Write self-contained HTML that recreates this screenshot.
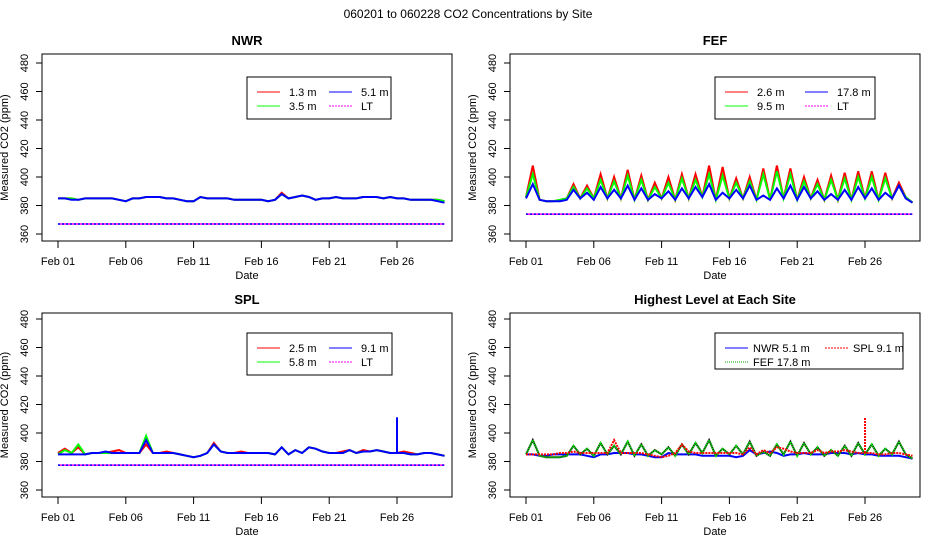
<!DOCTYPE html>
<html><head><meta charset="utf-8"><style>
body{margin:0;background:#fff}
svg{display:block;font-family:"Liberation Sans",sans-serif}
</style></head><body>
<svg id="c" width="936" height="540" xmlns="http://www.w3.org/2000/svg">
<text x="468" y="18" font-size="12" text-anchor="middle">060201  to  060228 CO2 Concentrations by Site</text>
</svg>
<script>
const xTickLabels=["Feb 01","Feb 06","Feb 11","Feb 16","Feb 21","Feb 26"];
const xTickDays=[0,5,10,15,20,25];
const yTicks=[360,380,400,420,440,460,480];
// half-day resolution series
const nwr13=[385,385,385,384,385,385,385,385,385,384,383,385,385,386,386,386,385,385,384,383,383,386,385,385,385,385,384,384,384,384,384,383,384,389,385,386,387,386,384,385,385,386,385,385,385,386,386,386,385,386,385,385,384,384,384,384,384,383];
const nwr35=[385,385,385,384,385,385,385,385,385,384,383,385,385,386,386,386,385,385,384,383,383,386,385,385,385,385,384,384,384,384,384,383,384,388,385,386,387,386,384,385,385,386,385,385,385,386,386,386,385,386,385,385,384,384,384,384,384,383];
const nwr51=[385,385,384,384,385,385,385,385,385,384,383,385,385,386,386,386,385,385,384,383,383,386,385,385,385,385,384,384,384,384,384,383,384,388,385,386,387,386,384,385,385,386,385,385,385,386,386,386,385,386,385,385,384,384,384,384,383,382];
const nwrLT=[367,367,367,367,367,367,367,367,367,367,367,367,367,367,367,367,367,367,367,367,367,367,367,367,367,367,367,367,367,367,367,367,367,367,367,367,367,367,367,367,367,367,367,367,367,367,367,367,367,367,367,367,367,367,367,367,367,367];
const fef26=[386,408,384,383,383,384,385,395,385,394,385,402,385,400,385,405,384,401,384,396,385,400,384,402,385,402,386,408,384,407,385,399,385,400,384,406,384,408,385,406,384,400,385,398,384,401,384,403,384,404,385,404,384,403,385,396,386,382];
const fef95=[386,402,384,383,383,384,385,393,385,392,385,398,385,397,385,401,384,398,384,393,385,396,384,399,385,398,386,402,384,401,385,396,385,397,384,402,384,404,385,402,384,397,385,395,384,398,384,399,384,400,385,400,384,399,385,394,386,382];
const fef178=[385,395,384,383,383,383,384,391,385,389,384,393,385,391,385,394,384,392,384,388,385,390,384,392,385,393,386,395,384,389,385,391,385,394,384,387,384,392,385,394,384,393,385,390,384,388,384,391,384,393,385,392,384,389,385,394,385,382];
const fefLT=[374,374,374,374,374,374,374,374,374,374,374,374,374,374,374,374,374,374,374,374,374,374,374,374,374,374,374,374,374,374,374,374,374,374,374,374,374,374,374,374,374,374,374,374,374,374,374,374,374,374,374,374,374,374,374,374,374,374];
const spl25=[386,389,386,390,385,386,386,386,387,388,386,386,386,392,386,386,387,386,385,384,383,384,386,393,387,386,386,387,386,386,386,386,385,390,385,388,386,390,389,387,386,386,387,388,386,388,387,388,387,386,386,387,386,385,386,386,385,384];
const spl58=[385,388,386,392,385,386,386,386,386,386,386,386,386,398,386,386,386,386,385,384,383,384,386,392,387,386,386,386,386,386,386,386,385,390,385,388,386,390,389,387,386,386,386,388,386,387,387,388,387,386,386,386,385,385,386,386,385,384];
const spl91=[385,385,385,385,385,386,386,387,386,386,386,386,386,395,386,386,386,386,385,384,383,384,386,392,387,386,386,386,386,386,386,386,385,390,385,388,386,390,389,387,386,386,386,388,386,387,387,388,387,386,386,386,385,385,386,386,385,384];
const splLT=[377.5,377.5,377.5,377.5,377.5,377.5,377.5,377.5,377.5,377.5,377.5,377.5,377.5,377.5,377.5,377.5,377.5,377.5,377.5,377.5,377.5,377.5,377.5,377.5,377.5,377.5,377.5,377.5,377.5,377.5,377.5,377.5,377.5,377.5,377.5,377.5,377.5,377.5,377.5,377.5,377.5,377.5,377.5,377.5,377.5,377.5,377.5,377.5,377.5,377.5,377.5,377.5,377.5,377.5,377.5,377.5,377.5,377.5];
const spike=[0,0,0,0,0,0,0,0,0,0,0,0,0,0,0,0,0,0,0,0,0,0,0,0,0,0,0,0,0,0,0,0,0,0,0,0,0,0,0,0,0,0,0,0,0,0,0,0,0,0,411,0,0,0,0,0,0,0];
const NS="http://www.w3.org/2000/svg";
const svg=document.getElementById('c');
function mk(tag,attrs,parent){const e=document.createElementNS(NS,tag);for(const k in attrs)e.setAttribute(k,attrs[k]);(parent||svg).appendChild(e);return e;}
function panel(p){
  const g=mk('g',{});
  
  
  const bx=p.x,by=p.y,bw=410,bh=p.h;
  const xs=d=>bx+16+d*13.56;
  const ys=v=>p.y480+(480-v)*1.425;
  const box=mk('rect',{x:bx,y:by,width:bw,height:bh,fill:'none',stroke:'#000','stroke-width':1},g);
  
  
  const t=mk('text',{x:bx+bw/2,y:by-9,'font-size':13,'font-weight':'bold','text-anchor':'middle'},g);t.textContent=p.title;
  
  
  xTickDays.forEach((d,i)=>{
    mk('line',{x1:xs(d),x2:xs(d),y1:by+bh,y2:by+bh+7,stroke:'#000'},g);
    const l=mk('text',{x:xs(d),y:by+bh+24,'font-size':11,'text-anchor':'middle'},g);l.textContent=xTickLabels[i];
    
    
  });
  mk('line',{x1:xs(0),x2:xs(25),y1:by+bh,y2:by+bh,stroke:'#000'},g);
  yTicks.forEach(v=>{
    mk('line',{x1:bx-6,x2:bx,y1:ys(v),y2:ys(v),stroke:'#000'},g);
    const l=mk('text',{x:bx-14,y:ys(v),'font-size':11,'text-anchor':'middle',transform:`rotate(-90 ${bx-14} ${ys(v)})`},g);l.textContent=v;
    
    
  });
  const xt=mk('text',{x:bx+205,y:by+bh+38,'font-size':11,'text-anchor':'middle'},g);xt.textContent='Date';
  
  
  const yx=bx-34,yy=by+bh/2;
  const yt=mk('text',{x:yx,y:yy,'font-size':11,'text-anchor':'middle',transform:`rotate(-90 ${yx} ${yy})`},g);yt.textContent='Measured CO2 (ppm)';
  
  
  p.series.forEach(s=>{
    const pts=s.v.map((v,i)=>xs(i*0.5).toFixed(1)+','+ys(v).toFixed(1)).join(' ');
    const pl=mk('polyline',{points:pts,fill:'none',stroke:s.c,'stroke-width':s.w||2,'stroke-dasharray':s.dash||'none'},g);
    
    
    if(s.sp){s.sp.forEach((v,i)=>{if(v){const ln=mk('line',{x1:xs(i*0.5),x2:xs(i*0.5),y1:ys(386),y2:ys(v),stroke:s.c,'stroke-width':2,'stroke-dasharray':s.dash||'none'},g);
      
      }});}
  });
  // legend
  const L=p.leg;
  const lg=mk('g',{},g);
  
  
  mk('rect',{x:L.x,y:L.y,width:L.w,height:L.h,fill:'#fff',stroke:'#000'},lg);
  L.items.forEach((it,i)=>{
    const col=i<2?0:1,row=i%2;
    const lx=L.x+10+col*L.cw,ly=L.y+15+row*14;
    mk('line',{x1:lx,x2:lx+23,y1:ly,y2:ly,stroke:it.c,'stroke-width':1,'stroke-dasharray':it.dash||'none'},lg);
    const tx=mk('text',{x:lx+L.tx,y:ly+4,'font-size':11},lg);tx.textContent=it.t;
    
    
  });
}
panel({name:'nwr',title:'NWR',x:42,y:54,h:187,y480:63,
  series:[{v:nwr13,c:'#f00',n:'nwr-1-3m-line'},{v:nwr35,c:'#0f0',n:'nwr-3-5m-line'},{v:nwr51,c:'#00f',n:'nwr-5-1m-line'},{v:nwrLT,c:'#f0f',n:'nwr-lt-line',w:1.5},{v:nwrLT,c:'#00f',n:'nwr-lt-dash',w:1.5,dash:'2,2'}],
  leg:{x:247,y:77,w:144,h:42,cw:72,tx:32,items:[{t:'1.3 m',c:'#f00'},{t:'3.5 m',c:'#0f0'},{t:'5.1 m',c:'#00f'},{t:'LT',c:'#f0f',dash:'2,1'}]}});
panel({name:'fef',title:'FEF',x:510,y:54,h:187,y480:63,
  series:[{v:fef26,c:'#f00',n:'fef-2-6m-line'},{v:fef95,c:'#0f0',n:'fef-9-5m-line'},{v:fef178,c:'#00f',n:'fef-17-8m-line'},{v:fefLT,c:'#f0f',n:'fef-lt-line',w:1.5},{v:fefLT,c:'#00f',n:'fef-lt-dash',w:1.5,dash:'2,2'}],
  leg:{x:715,y:77,w:160,h:42,cw:80,tx:32,items:[{t:'2.6 m',c:'#f00'},{t:'9.5 m',c:'#0f0'},{t:'17.8 m',c:'#00f'},{t:'LT',c:'#f0f',dash:'2,1'}]}});
panel({name:'spl',title:'SPL',x:42,y:313,h:184,y480:319,
  series:[{v:spl25,c:'#f00',n:'spl-2-5m-line'},{v:spl58,c:'#0f0',n:'spl-5-8m-line'},{v:spl91,c:'#00f',n:'spl-9-1m-line',sp:spike},{v:splLT,c:'#f0f',n:'spl-lt-line',w:1.5},{v:splLT,c:'#00f',n:'spl-lt-dash',w:1.5,dash:'2,2'}],
  leg:{x:247,y:333,w:145,h:42,cw:72,tx:32,items:[{t:'2.5 m',c:'#f00'},{t:'5.8 m',c:'#0f0'},{t:'9.1 m',c:'#00f'},{t:'LT',c:'#f0f',dash:'2,1'}]}});
panel({name:'highest',title:'Highest Level at Each Site',x:510,y:313,h:184,y480:319,
  series:[{v:nwr51,c:'#00f',n:'nwr-highest-line'},{v:fef178,c:'#222',n:'fef-highest-line-bg'},{v:fef178,c:'#0f0',n:'fef-highest-line',dash:'1,1'},{v:spl91,c:'#f00',n:'spl-highest-line',dash:'2,1',sp:spike}],
  leg:{x:715,y:333,w:188,h:36,cw:100,tx:28,items:[{t:'NWR   5.1 m',c:'#00f'},{t:'FEF   17.8 m',c:'#0a0',dash:'1,1'},{t:'SPL   9.1 m',c:'#f00',dash:'2,1'},{t:'',c:'#fff'}]}});
</script>
</body></html>
